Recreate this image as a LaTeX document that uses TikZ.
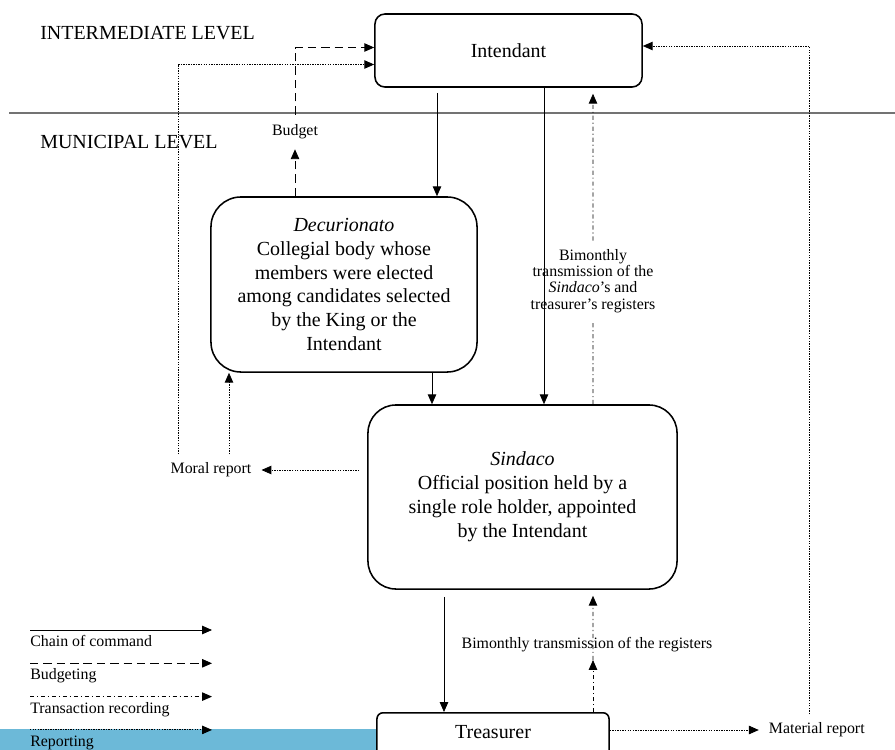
\documentclass[tikz,border=0pt]{standalone}
\usepackage{fontspec}
\setmainfont{Liberation Serif}
\usepackage{xcolor}
\usetikzlibrary{arrows.meta, positioning, calc}
\newcommand{\boxsize}{\fontsize{14.2}{17}\selectfont}
\newcommand{\lblsize}{\fontsize{11.3}{11.6}\selectfont}
\definecolor{bandblue}{RGB}{108,185,216}
\tikzset{
	unit/.style={rectangle, draw, line width=1.1pt, align=center, inner sep=0pt, font=\boxsize},
	lbl/.style={align=center, font=\lblsize, inner xsep=7pt, inner ysep=6pt},
	flow/.style={draw, line width=0.6pt, -{Triangle[length=7pt, width=6pt]}},
	budg/.style={flow, dash pattern=on 6pt off 3.5pt},
	trans/.style={flow, dash pattern=on 3pt off 2pt on 0.8pt off 2pt},
	rep/.style={flow, dash pattern=on 1pt off 0.8pt}
}

\begin{document}
\begin{tikzpicture}[x=0.025cm, y=-0.025cm]
	% page frame, same size as the reference
	\useasboundingbox (0,0) rectangle (895,750);
	\fill[bandblue] (0,729) rectangle (377,750);
	
	% levels
	\draw[black!55, line width=0.9pt] (9,113) -- (895,113);
	\node[anchor=west, inner sep=0pt, font=\boxsize] (interlvl) at (40,33) {INTERMEDIATE LEVEL};
	\node[anchor=west, inner sep=0pt, font=\boxsize] (munilvl) at (40,142) {MUNICIPAL LEVEL};
	
	% main boxes
	\node[unit, rounded corners=0.25cm, minimum width=6.675cm, minimum height=1.825cm] (intendant) at (508.5,50.5) {Intendant};
	\node[unit, rounded corners=0.75cm, minimum width=6.65cm, minimum height=4.375cm] (dec) at (344,284.5) {\textit{Decurionato}\\Collegial body whose\\members were elected\\among candidates selected\\by the King or the\\Intendant};
	\node[unit, rounded corners=0.7cm, minimum width=7.725cm, minimum height=4.6cm] (sindaco) at (522.5,497) {\textit{Sindaco}\\Official position held by a\\single role holder, appointed\\by the Intendant};
	\node[unit, fill=white, rounded corners=0.15cm, minimum width=5.8cm, anchor=north, text height=0.65cm, text depth=1.2cm] (treasurer) at (493,712) {Treasurer};
	
	% chain of command
	\draw[flow] ($(intendant.south)+(-71.5,5)$) -- ($(dec.north)+(93,0)$);
	\draw[flow] ($(intendant.south)+(35.5,0)$) -- ($(sindaco.north)+(21.5,0)$);
	\draw[flow] ($(dec.south)+(88,0)$) -- ($(sindaco.north)+(-90.5,0)$);
	\draw[flow] ($(sindaco.south)+(-78.5,7)$) -- ($(treasurer.north)+(-49,0)$);
	
	% budgeting
	\node[lbl, minimum height=0.85cm, inner ysep=0pt] (budget) at (295,132) {Budget};
	\draw[budg] ($(dec.north)+(-49,0)$) -- (budget.south);
	\draw[budg] (budget.north) |- ($(intendant.west)+(0,-3)$);
	
	% transaction recording
	\node[lbl] (bimsin) at (593,281) {Bimonthly\\transmission of the\\\textit{Sindaco}'s and\\treasurer's registers};
	\draw[trans, -] ($(sindaco.north)+(70.5,0)$) -- (bimsin.south);
	\draw[trans] (bimsin.north) -- ($(intendant.south)+(84.5,6)$);
	\node[lbl] (bimtre) at (587,645) {Bimonthly transmission of the registers};
	\coordinate (regtip) at ($(treasurer.north)+(100,-52)$);
	\draw[trans] ($(treasurer.north)+(100,0)$) -- (regtip);
	\draw[trans] (regtip) -- ($(sindaco.south)+(70.5,6)$);
	
	% reporting
	\node[lbl] (moral) at (211,470) {Moral report};
	\draw[rep] ($(sindaco.west)+(-8,-27)$) -- (moral.east);
	\draw[rep] ($(moral.north)+(18,0)$) -- ($(dec.south)+(-115,0)$);
	\draw[rep] ($(moral.north)+(-33,0)$) |- ($(intendant.west)+(0,14)$);
	\node[lbl, anchor=west] (material) at ($(treasurer.north east)+(149,18)$) {Material report};
	\draw[rep] ($(treasurer.north east)+(0,18)$) -- (material.west);
	\draw[rep] ($(material.north)+(-7.5,0)$) |- ($(intendant.east)+(0,-4.5)$);
	
	% legend
	\foreach \sty/\txt [count=\i] in {flow/Chain of command, budg/Budgeting, trans/Transaction recording, rep/Reporting} {
		\coordinate (legs\i) at (30,596.7+33.3*\i);
		\coordinate (lege\i) at (212,596.7+33.3*\i);
		\draw[\sty] (legs\i) -- (lege\i);
		\node[font=\lblsize, anchor=base west, inner sep=0pt] (leg\i) at ($(legs\i)+(0,16.5)$) {\txt};
	}
\end{tikzpicture}
\end{document}
